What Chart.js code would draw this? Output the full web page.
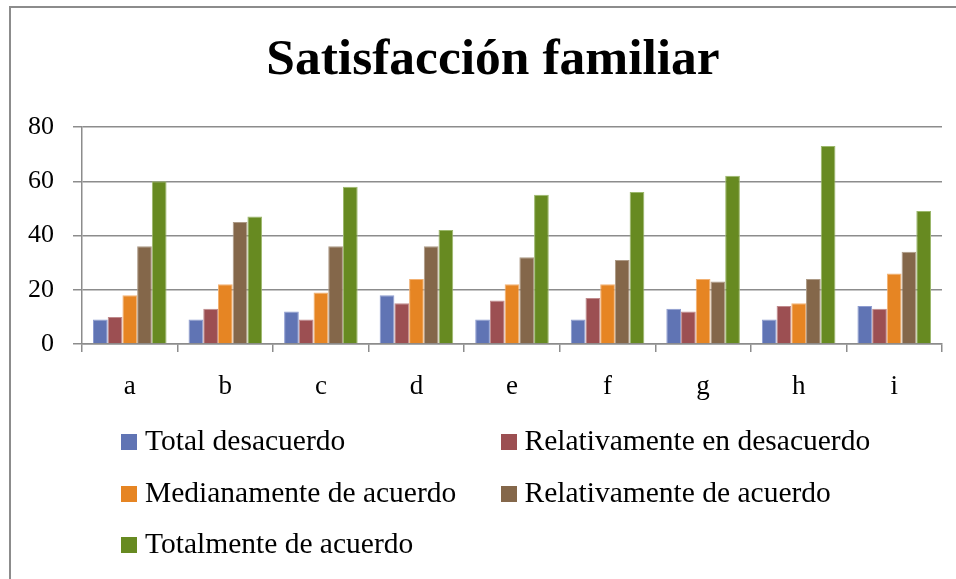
<!DOCTYPE html>
<html>
<head>
<meta charset="utf-8">
<script src="https://cdn.jsdelivr.net/npm/chart.js@4/dist/chart.umd.min.js"></script>
<style>
  html, body { margin: 0; padding: 0; background: #fff; }
  #wrap { position: relative; width: 956px; height: 579px; overflow: hidden; }
  #frame { position: absolute; left: 9px; top: 6px; width: 960px; height: 600px;
           border-left: 2px solid #8c8c8c; border-top: 2px solid #8c8c8c; }
  canvas { position: absolute; left: 0; top: 0; }
  #legend { position: absolute; left: 121px; top: 434px; font-family: 'Liberation Serif', serif; font-size: 29.5px; color: #000; }
  .item { position: absolute; width: 370px; height: 20px; }
  .box { position: absolute; left: 0; top: 0; width: 16px; height: 16px; }
  .lbl { position: absolute; left: 24px; top: -8px; line-height: 29.5px; white-space: nowrap; }
</style>
</head>
<body>
<div id="wrap">
  <div id="frame"></div>
  <canvas id="c" width="956" height="579"></canvas>
  <div id="legend"></div>
</div>
<script>
const categories = ['a', 'b', 'c', 'd', 'e', 'f', 'g', 'h', 'i'];
const seriesNames = ['Total desacuerdo', 'Relativamente en desacuerdo', 'Medianamente de acuerdo', 'Relativamente de acuerdo', 'Totalmente de acuerdo'];
const totalDesacuerdo        = [9, 9, 12, 18, 9, 9, 13, 9, 14];
const relativamenteDesacuerdo = [10, 13, 9, 15, 16, 17, 12, 14, 13];
const medianamenteAcuerdo    = [18, 22, 19, 24, 22, 22, 24, 15, 26];
const relativamenteAcuerdo   = [36, 45, 36, 36, 32, 31, 23, 24, 34];
const totalmenteAcuerdo      = [60, 47, 58, 42, 55, 56, 62, 73, 49];
const yTicks = [0, 20, 40, 60, 80];
const titleText = 'Satisfacción familiar';

const seriesValues = [totalDesacuerdo, relativamenteDesacuerdo, medianamenteAcuerdo, relativamenteAcuerdo, totalmenteAcuerdo];
const colors = ['#6074b4', '#9c4f52', '#e68523', '#84674a', '#678a21'];
const borders = ['#8d9cd0', '#c08a8c', '#f2b173', '#ad9a86', '#9cb86c'];

const datasets = seriesNames.map((name, i) => ({
  label: name,
  data: seriesValues[i],
  backgroundColor: colors[i],
  borderColor: borders[i],
  borderWidth: 1,
  categoryPercentage: 0.77,
  barPercentage: 1.0
}));

const serif = "'Liberation Serif', serif";

// shift the title block so it is centred like the original (over x ≈ 493)
const titleShift = {
  id: 'titleShift',
  afterLayout(chart) {
    const tb = chart.titleBlock;
    if (tb) { tb.left += 44; }
  }
};

new Chart(document.getElementById('c'), {
  type: 'bar',
  data: { labels: categories, datasets },
  plugins: [titleShift],
  options: {
    responsive: false,
    animation: false,
    devicePixelRatio: 1,
    layout: { padding: { left: 0, right: 14, top: 0, bottom: 0 } },
    plugins: {
      legend: { display: false },
      tooltip: { enabled: false },
      title: {
        display: true,
        text: titleText,
        color: '#000',
        font: { family: serif, size: 51.5, weight: 'bold', lineHeight: 1.2 },
        padding: { top: 30, bottom: 35.2 }
      }
    },
    scales: {
      x: {
        grid: { display: true, drawOnChartArea: false, drawTicks: true, tickLength: 8, color: '#8c8c8c', lineWidth: 1.5, offset: true },
        border: { display: true, color: '#8c8c8c', width: 1.5 },
        ticks: { color: '#000', font: { family: serif, size: 27 }, padding: 19, maxRotation: 0 },
        afterFit: (s) => { s.height = 235; }
      },
      y: {
        min: 0, max: 80,
        afterBuildTicks: (s) => { s.ticks = yTicks.map(v => ({ value: v })); },
        grid: { color: '#8c8c8c', lineWidth: 1.5, drawTicks: true, tickLength: 9 },
        border: { display: true, color: '#8c8c8c', width: 1.5 },
        ticks: { color: '#000', font: { family: serif, size: 26 }, padding: 19 },
        afterFit: (s) => { s.width = 82; }
      }
    }
  }
});

const legend = document.getElementById('legend');
seriesNames.forEach((name, i) => {
  const item = document.createElement('div');
  item.className = 'item';
  item.style.left = (i % 2) * 379.5 + 'px';
  item.style.top = Math.floor(i / 2) * 51.5 + 'px';
  const box = document.createElement('div');
  box.className = 'box';
  box.style.background = colors[i];
  const lbl = document.createElement('span');
  lbl.className = 'lbl';
  lbl.textContent = name;
  item.appendChild(box);
  item.appendChild(lbl);
  legend.appendChild(item);
});
</script>
</body>
</html>
